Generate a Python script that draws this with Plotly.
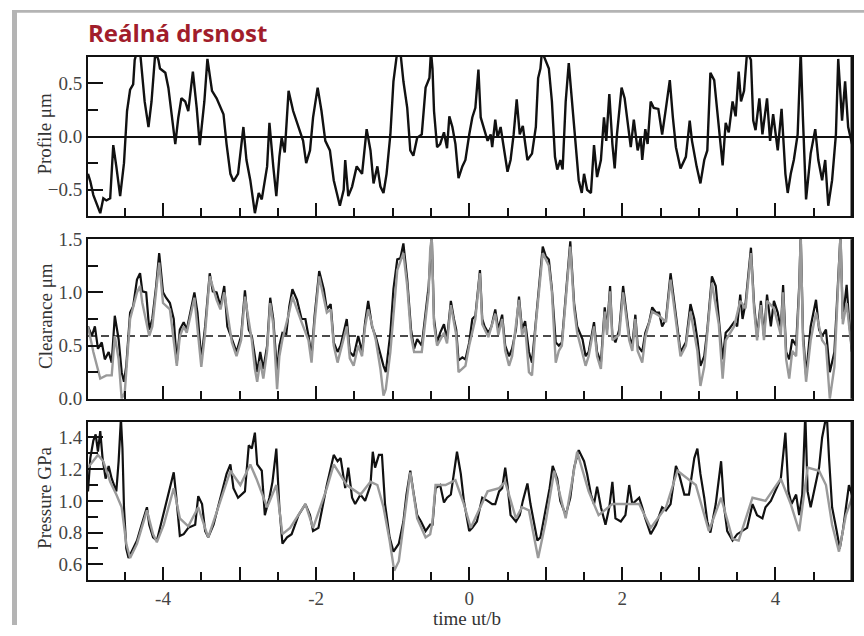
import plotly.graph_objects as go

# ---------------- data ----------------
profile = [
    (-4.98, -0.35), (-4.95, -0.42), (-4.91, -0.55), (-4.87, -0.62), (-4.82, -0.72),
    (-4.78, -0.58), (-4.74, -0.60), (-4.69, -0.58), (-4.65, -0.08), (-4.61, -0.28),
    (-4.56, -0.56), (-4.51, -0.25), (-4.47, 0.24), (-4.43, 0.44), (-4.39, 0.49),
    (-4.37, 0.72), (-4.34, 0.80), (-4.30, 0.80), (-4.28, 0.64), (-4.24, 0.33),
    (-4.19, 0.09), (-4.15, 0.33), (-4.10, 0.80), (-4.06, 0.72), (-4.04, 0.64),
    (-3.97, 0.60), (-3.93, 0.46), (-3.89, 0.21), (-3.84, -0.07), (-3.80, 0.18),
    (-3.76, 0.36), (-3.71, 0.33), (-3.67, 0.24), (-3.61, 0.61), (-3.56, 0.27),
    (-3.52, -0.08), (-3.46, 0.33), (-3.42, 0.73), (-3.36, 0.43), (-3.30, 0.36),
    (-3.25, 0.27), (-3.21, 0.21), (-3.17, -0.07), (-3.12, -0.35), (-3.08, -0.42),
    (-3.02, -0.35), (-2.95, 0.09), (-2.91, -0.22), (-2.86, -0.41), (-2.82, -0.65),
    (-2.80, -0.72), (-2.75, -0.53), (-2.71, -0.59), (-2.64, -0.28), (-2.61, 0.13),
    (-2.56, -0.28), (-2.52, -0.56), (-2.48, -0.19), (-2.45, -0.01), (-2.41, -0.15),
    (-2.36, 0.43), (-2.30, 0.24), (-2.23, 0.09), (-2.17, -0.04), (-2.13, -0.25),
    (-2.08, -0.13), (-2.04, 0.18), (-1.98, 0.46), (-1.93, 0.24), (-1.88, -0.04),
    (-1.82, -0.13), (-1.77, -0.41), (-1.73, -0.53), (-1.69, -0.65), (-1.64, -0.50),
    (-1.62, -0.22), (-1.58, -0.56), (-1.53, -0.47), (-1.47, -0.28), (-1.40, -0.35),
    (-1.34, 0.07), (-1.29, -0.13), (-1.25, -0.44), (-1.20, -0.28), (-1.16, -0.47),
    (-1.12, -0.53), (-1.08, -0.35), (-1.03, 0.02), (-0.99, 0.52), (-0.94, 0.80),
    (-0.90, 0.80), (-0.86, 0.52), (-0.81, 0.27), (-0.77, -0.13), (-0.73, -0.18),
    (-0.68, -0.01), (-0.62, 0.02), (-0.57, 0.46), (-0.52, 0.55), (-0.50, 0.80),
    (-0.48, 0.64), (-0.46, 0.24), (-0.42, -0.10), (-0.38, -0.07), (-0.33, 0.04),
    (-0.29, -0.11), (-0.26, 0.19), (-0.22, 0.09), (-0.18, -0.07), (-0.14, -0.39),
    (-0.09, -0.28), (-0.05, -0.22), (0.00, 0.02), (0.04, 0.18), (0.08, 0.27),
    (0.12, 0.63), (0.15, 0.18), (0.19, 0.09), (0.24, -0.04), (0.28, 0.02),
    (0.30, -0.10), (0.34, 0.16), (0.37, -0.01), (0.41, 0.09), (0.45, -0.10),
    (0.50, -0.33), (0.54, -0.22), (0.58, 0.02), (0.62, 0.35), (0.66, 0.02),
    (0.70, 0.10), (0.76, -0.22), (0.82, -0.16), (0.87, 0.09), (0.90, 0.55),
    (0.93, 0.64), (0.95, 0.80), (1.00, 0.72), (1.04, 0.64), (1.08, 0.33),
    (1.12, -0.19), (1.15, -0.31), (1.19, -0.22), (1.22, -0.31), (1.26, 0.33),
    (1.30, 0.69), (1.34, 0.33), (1.38, -0.04), (1.43, -0.41), (1.47, -0.53),
    (1.50, -0.35), (1.54, -0.50), (1.59, -0.53), (1.63, -0.08), (1.67, -0.38),
    (1.72, -0.22), (1.76, 0.18), (1.79, -0.04), (1.83, 0.40), (1.87, -0.07),
    (1.90, -0.30), (1.93, 0.02), (1.99, 0.46), (2.03, 0.36), (2.07, 0.15),
    (2.11, -0.10), (2.15, 0.16), (2.20, -0.13), (2.24, -0.01), (2.26, -0.22),
    (2.30, 0.07), (2.33, -0.07), (2.37, 0.33), (2.41, 0.27), (2.47, 0.26),
    (2.52, 0.02), (2.57, 0.27), (2.62, 0.53), (2.66, 0.18), (2.70, -0.10),
    (2.76, -0.30), (2.83, -0.19), (2.88, 0.15), (2.91, -0.04), (2.97, -0.28),
    (3.02, -0.44), (3.07, -0.22), (3.11, -0.13), (3.15, 0.60), (3.20, 0.53),
    (3.24, 0.24), (3.27, 0.02), (3.31, -0.27), (3.35, 0.13), (3.39, 0.04),
    (3.44, 0.33), (3.48, 0.19), (3.52, 0.61), (3.55, 0.33), (3.59, 0.43),
    (3.63, 0.80), (3.68, 0.72), (3.71, 0.15), (3.74, 0.06), (3.79, 0.36),
    (3.83, 0.02), (3.89, 0.36), (3.93, -0.04), (3.97, 0.21), (4.03, -0.13),
    (4.08, 0.26), (4.13, -0.35), (4.16, -0.53), (4.20, -0.35), (4.24, -0.22),
    (4.29, 0.02), (4.33, 0.80), (4.36, 0.15), (4.40, -0.59), (4.46, -0.16),
    (4.52, 0.07), (4.56, -0.22), (4.61, -0.41), (4.65, -0.22), (4.69, -0.65),
    (4.74, -0.41), (4.79, 0.02), (4.82, 0.73), (4.87, 0.15), (4.91, 0.52),
    (4.95, 0.09), (5.00, -0.07),
]

clearance_black = [
    (-4.98, 0.68), (-4.93, 0.59), (-4.89, 0.68), (-4.85, 0.47), (-4.80, 0.53),
    (-4.76, 0.37), (-4.71, 0.44), (-4.67, 0.34), (-4.63, 0.78), (-4.58, 0.56),
    (-4.54, 0.25), (-4.51, 0.16), (-4.48, 0.31), (-4.43, 0.81), (-4.39, 0.87),
    (-4.34, 1.12), (-4.30, 1.18), (-4.27, 1.01), (-4.22, 1.00), (-4.18, 0.65),
    (-4.14, 0.75), (-4.09, 1.06), (-4.05, 1.37), (-4.00, 1.00), (-3.96, 0.95),
    (-3.91, 0.90), (-3.86, 0.75), (-3.82, 0.34), (-3.78, 0.65), (-3.73, 0.72),
    (-3.69, 0.65), (-3.65, 0.78), (-3.59, 1.00), (-3.55, 0.81), (-3.50, 0.37),
    (-3.45, 0.68), (-3.39, 1.18), (-3.35, 1.01), (-3.30, 1.00), (-3.25, 0.87),
    (-3.20, 1.06), (-3.16, 0.68), (-3.10, 0.56), (-3.04, 0.44), (-2.98, 0.59),
    (-2.93, 1.02), (-2.88, 0.65), (-2.84, 0.59), (-2.80, 0.40), (-2.77, 0.25),
    (-2.73, 0.44), (-2.69, 0.28), (-2.64, 0.50), (-2.60, 0.95), (-2.56, 0.75),
    (-2.51, 0.25), (-2.48, 0.50), (-2.44, 0.62), (-2.39, 0.61), (-2.35, 0.87),
    (-2.31, 1.03), (-2.25, 0.93), (-2.19, 0.75), (-2.14, 0.75), (-2.10, 0.59),
    (-2.06, 0.40), (-2.02, 0.78), (-1.96, 1.20), (-1.90, 1.03), (-1.86, 0.84),
    (-1.81, 0.89), (-1.77, 0.53), (-1.72, 0.44), (-1.68, 0.50), (-1.60, 0.75),
    (-1.56, 0.44), (-1.51, 0.40), (-1.45, 0.59), (-1.40, 0.44), (-1.36, 0.72),
    (-1.32, 0.92), (-1.27, 0.68), (-1.22, 0.58), (-1.16, 0.40), (-1.12, 0.31),
    (-1.09, 0.25), (-1.03, 0.62), (-0.99, 1.03), (-0.94, 1.31), (-0.90, 1.32),
    (-0.86, 1.46), (-0.81, 1.12), (-0.76, 0.65), (-0.72, 0.47), (-0.68, 0.56),
    (-0.62, 0.50), (-0.57, 0.81), (-0.53, 1.06), (-0.51, 1.31), (-0.49, 1.55),
    (-0.46, 0.75), (-0.42, 0.53), (-0.38, 0.62), (-0.33, 0.70), (-0.29, 0.56),
    (-0.24, 0.92), (-0.20, 0.75), (-0.17, 0.65), (-0.14, 0.36), (-0.09, 0.39),
    (-0.05, 0.37), (0.00, 0.53), (0.04, 0.75), (0.08, 0.78), (0.14, 1.21),
    (0.17, 0.75), (0.20, 0.68), (0.25, 0.62), (0.29, 0.68), (0.34, 0.84),
    (0.38, 0.65), (0.43, 0.79), (0.47, 0.50), (0.52, 0.40), (0.56, 0.47),
    (0.61, 0.65), (0.65, 0.96), (0.69, 0.65), (0.73, 0.73), (0.78, 0.44),
    (0.82, 0.34), (0.87, 0.75), (0.91, 1.09), (0.96, 1.43), (1.00, 1.34),
    (1.04, 1.31), (1.08, 1.03), (1.13, 0.53), (1.17, 0.50), (1.21, 0.53),
    (1.26, 0.96), (1.32, 1.48), (1.37, 0.90), (1.41, 0.68), (1.48, 0.56),
    (1.52, 0.40), (1.56, 0.44), (1.63, 0.72), (1.67, 0.44), (1.72, 0.34),
    (1.77, 0.86), (1.80, 0.65), (1.84, 1.06), (1.87, 0.59), (1.91, 0.53),
    (1.96, 0.65), (2.01, 1.06), (2.04, 0.90), (2.09, 0.59), (2.13, 0.50),
    (2.17, 0.79), (2.20, 0.50), (2.26, 0.44), (2.30, 0.62), (2.35, 0.72),
    (2.39, 0.86), (2.44, 0.81), (2.48, 0.81), (2.52, 0.68), (2.57, 0.75),
    (2.63, 1.18), (2.68, 0.90), (2.72, 0.65), (2.76, 0.44), (2.83, 0.53),
    (2.89, 0.89), (2.94, 0.75), (2.98, 0.56), (3.02, 0.31), (3.07, 0.40),
    (3.11, 0.65), (3.17, 1.15), (3.22, 1.06), (3.26, 0.75), (3.31, 0.37),
    (3.35, 0.62), (3.39, 0.65), (3.46, 0.72), (3.50, 0.68), (3.54, 0.98),
    (3.57, 0.75), (3.61, 0.90), (3.68, 1.42), (3.72, 0.90), (3.76, 0.59),
    (3.81, 0.92), (3.85, 0.59), (3.89, 0.98), (3.94, 0.68), (3.98, 0.92),
    (4.03, 0.81), (4.07, 0.65), (4.10, 1.07), (4.14, 0.44), (4.18, 0.37),
    (4.22, 0.56), (4.27, 0.50), (4.31, 1.06), (4.33, 1.55), (4.36, 0.62),
    (4.40, 0.22), (4.46, 0.68), (4.53, 0.93), (4.57, 0.65), (4.61, 0.59),
    (4.66, 0.65), (4.71, 0.25), (4.77, 0.44), (4.81, 1.06), (4.85, 1.55),
    (4.88, 0.75), (4.93, 1.07), (4.96, 0.75), (5.00, 0.44),
]

clearance_gray = [
    (-4.98, 0.68), (-4.91, 0.44), (-4.82, 0.19), (-4.74, 0.22), (-4.67, 0.22),
    (-4.63, 0.59), (-4.58, 0.37), (-4.54, 0.00), (-4.50, 0.06), (-4.43, 0.75),
    (-4.34, 1.00), (-4.30, 1.06), (-4.27, 0.90), (-4.18, 0.59), (-4.14, 0.68),
    (-4.05, 1.28), (-4.00, 0.90), (-3.91, 0.84), (-3.82, 0.31), (-3.78, 0.59),
    (-3.73, 0.68), (-3.69, 0.62), (-3.59, 0.95), (-3.50, 0.30), (-3.45, 0.62),
    (-3.39, 1.15), (-3.30, 0.93), (-3.25, 0.84), (-3.20, 1.00), (-3.10, 0.53),
    (-3.04, 0.40), (-2.98, 0.55), (-2.93, 0.96), (-2.84, 0.55), (-2.80, 0.28),
    (-2.77, 0.16), (-2.73, 0.35), (-2.69, 0.19), (-2.64, 0.45), (-2.60, 0.90),
    (-2.56, 0.70), (-2.51, 0.09), (-2.48, 0.40), (-2.44, 0.56), (-2.35, 0.82),
    (-2.31, 0.96), (-2.19, 0.72), (-2.10, 0.55), (-2.06, 0.34), (-2.02, 0.72),
    (-1.96, 1.15), (-1.86, 0.81), (-1.81, 0.84), (-1.77, 0.50), (-1.72, 0.34),
    (-1.68, 0.45), (-1.60, 0.68), (-1.56, 0.38), (-1.51, 0.31), (-1.45, 0.50),
    (-1.40, 0.40), (-1.36, 0.68), (-1.32, 0.84), (-1.22, 0.55), (-1.16, 0.28),
    (-1.12, 0.03), (-1.09, 0.09), (-1.03, 0.44), (-0.94, 1.21), (-0.86, 1.37),
    (-0.81, 1.06), (-0.76, 0.59), (-0.72, 0.44), (-0.62, 0.44), (-0.57, 0.75),
    (-0.53, 1.00), (-0.51, 1.40), (-0.49, 1.52), (-0.46, 0.70), (-0.42, 0.50),
    (-0.33, 0.62), (-0.29, 0.52), (-0.24, 0.88), (-0.17, 0.60), (-0.14, 0.25),
    (-0.05, 0.31), (0.00, 0.50), (0.08, 0.75), (0.14, 1.18), (0.17, 0.70),
    (0.25, 0.58), (0.34, 0.80), (0.38, 0.60), (0.43, 0.75), (0.47, 0.45),
    (0.52, 0.31), (0.56, 0.40), (0.65, 0.93), (0.69, 0.60), (0.73, 0.68),
    (0.78, 0.25), (0.82, 0.22), (0.87, 0.70), (0.96, 1.37), (1.04, 1.25),
    (1.08, 1.00), (1.13, 0.34), (1.17, 0.45), (1.21, 0.50), (1.32, 1.43),
    (1.37, 0.85), (1.41, 0.62), (1.52, 0.31), (1.56, 0.40), (1.63, 0.68),
    (1.67, 0.40), (1.72, 0.28), (1.77, 0.82), (1.80, 0.60), (1.84, 1.01),
    (1.87, 0.55), (1.96, 0.60), (2.01, 1.00), (2.09, 0.55), (2.13, 0.45),
    (2.17, 0.75), (2.20, 0.45), (2.26, 0.34), (2.30, 0.58), (2.39, 0.82),
    (2.48, 0.78), (2.57, 0.72), (2.63, 1.12), (2.72, 0.60), (2.76, 0.40),
    (2.83, 0.50), (2.89, 0.82), (2.98, 0.45), (3.02, 0.12), (3.07, 0.30),
    (3.11, 0.60), (3.17, 1.09), (3.26, 0.70), (3.31, 0.19), (3.35, 0.55),
    (3.46, 0.68), (3.54, 0.92), (3.61, 0.85), (3.68, 1.37), (3.72, 0.85),
    (3.76, 0.55), (3.81, 0.88), (3.85, 0.55), (3.89, 0.92), (3.98, 0.85),
    (4.07, 0.60), (4.10, 1.00), (4.14, 0.37), (4.18, 0.19), (4.22, 0.45),
    (4.27, 0.40), (4.31, 1.00), (4.33, 1.55), (4.36, 0.55), (4.40, 0.16),
    (4.46, 0.55), (4.53, 0.81), (4.61, 0.55), (4.66, 0.50), (4.71, 0.00),
    (4.77, 0.30), (4.81, 1.00), (4.85, 1.55), (4.88, 0.70), (4.93, 0.90),
    (4.96, 0.70), (5.00, 0.44),
]

pressure_black = [
    (-4.98, 1.06), (-4.95, 1.27), (-4.91, 1.38), (-4.88, 1.42), (-4.85, 1.31),
    (-4.82, 1.44), (-4.79, 1.27), (-4.75, 1.14), (-4.71, 1.22), (-4.67, 1.14),
    (-4.61, 1.06), (-4.58, 1.25), (-4.55, 1.52), (-4.53, 1.33), (-4.51, 0.96),
    (-4.48, 0.70), (-4.45, 0.64), (-4.41, 0.68), (-4.34, 0.75), (-4.28, 0.85),
    (-4.21, 0.96), (-4.18, 0.85), (-4.13, 0.77), (-4.08, 0.75), (-4.02, 0.87),
    (-3.93, 1.06), (-3.86, 1.18), (-3.83, 1.04), (-3.78, 0.78), (-3.73, 0.79),
    (-3.67, 0.83), (-3.58, 0.85), (-3.54, 1.03), (-3.49, 0.98), (-3.45, 0.81),
    (-3.41, 0.77), (-3.34, 0.85), (-3.25, 1.02), (-3.17, 1.17), (-3.12, 1.23),
    (-3.08, 1.08), (-3.02, 1.02), (-2.97, 1.04), (-2.93, 1.06), (-2.88, 1.35),
    (-2.84, 1.33), (-2.80, 1.43), (-2.77, 1.23), (-2.71, 1.19), (-2.67, 0.91),
    (-2.61, 1.02), (-2.57, 1.12), (-2.52, 1.33), (-2.48, 0.96), (-2.44, 0.73),
    (-2.38, 0.77), (-2.32, 0.79), (-2.23, 0.91), (-2.14, 0.98), (-2.08, 0.91),
    (-2.04, 0.81), (-1.97, 0.83), (-1.86, 1.10), (-1.77, 1.29), (-1.72, 1.25),
    (-1.68, 1.27), (-1.62, 1.08), (-1.58, 1.21), (-1.53, 1.02), (-1.49, 0.98),
    (-1.42, 1.04), (-1.36, 1.00), (-1.29, 1.10), (-1.26, 1.31), (-1.23, 1.21),
    (-1.18, 1.29), (-1.14, 1.29), (-1.10, 0.98), (-1.04, 0.77), (-0.99, 0.68),
    (-0.92, 0.73), (-0.86, 0.87), (-0.82, 1.04), (-0.77, 1.19), (-0.73, 1.06),
    (-0.68, 0.91), (-0.63, 0.87), (-0.57, 0.81), (-0.51, 0.85), (-0.48, 0.85),
    (-0.44, 1.08), (-0.38, 1.10), (-0.33, 0.99), (-0.29, 1.02), (-0.24, 1.04),
    (-0.20, 1.17), (-0.16, 1.31), (-0.11, 1.17), (-0.07, 1.00), (0.00, 0.81),
    (0.04, 0.83), (0.10, 0.87), (0.17, 1.02), (0.24, 1.00), (0.30, 0.98),
    (0.34, 0.98), (0.39, 1.06), (0.43, 1.08), (0.47, 1.21), (0.50, 1.10),
    (0.54, 0.91), (0.61, 0.87), (0.66, 0.91), (0.70, 1.00), (0.76, 1.11),
    (0.80, 0.98), (0.85, 0.85), (0.89, 0.75), (0.93, 0.77), (1.00, 0.96),
    (1.05, 1.08), (1.09, 1.22), (1.15, 1.14), (1.19, 1.00), (1.26, 0.91),
    (1.32, 1.02), (1.37, 1.21), (1.43, 1.32), (1.50, 1.25), (1.54, 1.17),
    (1.59, 1.04), (1.63, 0.98), (1.67, 1.09), (1.72, 0.96), (1.78, 0.85),
    (1.83, 0.96), (1.87, 1.12), (1.91, 0.89), (1.98, 0.87), (2.04, 0.91),
    (2.09, 1.10), (2.13, 0.98), (2.22, 1.02), (2.26, 0.96), (2.30, 0.89),
    (2.37, 0.79), (2.44, 0.85), (2.52, 0.96), (2.57, 0.94), (2.63, 0.98),
    (2.70, 1.22), (2.74, 1.17), (2.81, 1.04), (2.87, 1.04), (2.94, 1.27),
    (2.98, 1.33), (3.02, 1.17), (3.07, 1.02), (3.11, 0.87), (3.15, 0.80),
    (3.22, 0.98), (3.29, 1.25), (3.33, 0.96), (3.37, 0.81), (3.44, 0.75),
    (3.50, 0.79), (3.57, 0.81), (3.63, 0.83), (3.70, 0.98), (3.76, 0.91),
    (3.83, 0.89), (3.87, 0.96), (3.94, 1.00), (4.00, 1.06), (4.07, 1.14),
    (4.13, 1.43), (4.17, 1.06), (4.21, 0.98), (4.27, 1.04), (4.31, 0.91),
    (4.35, 1.04), (4.39, 1.55), (4.42, 1.06), (4.46, 0.96), (4.51, 1.08),
    (4.57, 1.21), (4.61, 1.40), (4.67, 1.55), (4.70, 1.27), (4.74, 0.96),
    (4.80, 0.81), (4.84, 0.70), (4.88, 0.81), (4.92, 0.96), (4.96, 1.10),
    (5.00, 1.04),
]

pressure_gray = [
    (-4.98, 1.21), (-4.91, 1.25), (-4.85, 1.29), (-4.78, 1.25), (-4.69, 1.12),
    (-4.61, 1.04), (-4.54, 0.96), (-4.48, 0.73), (-4.43, 0.64), (-4.34, 0.73),
    (-4.21, 0.94), (-4.13, 0.79), (-4.08, 0.74), (-3.99, 0.85), (-3.86, 1.08),
    (-3.78, 0.89), (-3.67, 0.84), (-3.54, 0.96), (-3.41, 0.77), (-3.25, 1.00),
    (-3.12, 1.19), (-2.99, 1.10), (-2.86, 1.23), (-2.78, 1.14), (-2.64, 0.96),
    (-2.52, 1.10), (-2.44, 0.79), (-2.34, 0.83), (-2.14, 0.98), (-2.04, 0.83),
    (-1.86, 1.08), (-1.77, 1.23), (-1.60, 1.10), (-1.42, 1.04), (-1.29, 1.12),
    (-1.20, 1.10), (-1.12, 0.96), (-1.04, 0.75), (-0.98, 0.56), (-0.92, 0.62),
    (-0.84, 0.91), (-0.77, 1.18), (-0.68, 0.89), (-0.57, 0.77), (-0.51, 0.79),
    (-0.48, 0.87), (-0.44, 1.10), (-0.31, 1.10), (-0.18, 1.13), (-0.07, 0.98),
    (0.02, 0.83), (0.13, 0.94), (0.24, 1.06), (0.39, 1.08), (0.47, 1.12),
    (0.61, 0.89), (0.69, 0.96), (0.78, 0.94), (0.90, 0.64), (1.00, 0.87),
    (1.11, 1.19), (1.26, 0.89), (1.41, 1.31), (1.56, 1.06), (1.69, 0.91),
    (1.87, 0.98), (2.04, 0.98), (2.22, 0.98), (2.37, 0.83), (2.57, 0.96),
    (2.72, 1.19), (2.96, 1.10), (3.13, 0.81), (3.29, 1.02), (3.44, 0.76),
    (3.52, 0.75), (3.70, 1.02), (3.87, 1.00), (4.07, 1.14), (4.20, 0.98),
    (4.31, 0.81), (4.42, 1.21), (4.57, 1.19), (4.66, 1.10), (4.74, 0.85),
    (4.83, 0.68), (4.92, 0.91), (5.00, 1.02),
]

clearance_reference = 0.59
x_major_ticks = [-4, -3, -2, -1, 0, 1, 2, 3, 4]
x_tick_labels = ["-4", "", "-2", "", "0", "", "2", "", "4"]

# ---------------- layout helpers ----------------
# The photographed page is squeezed slightly in height, so target screen
# rows are mapped back to figure rows before becoming paper fractions.
W, H = 864, 636
SY = 652 / 636
def fx(t): return t / W
def fy(t): return 1 - (t * SY - 8) / H

BLACK = "#111111"
GRAY = "#9a9a9a"
SERIF = "Liberation Serif, Times New Roman, serif"
LABEL_COLOR = "#444444"

def unzip(pairs):
    return [p[0] for p in pairs], [p[1] for p in pairs]

fig = go.Figure()

t, v = unzip(profile)
fig.add_trace(go.Scatter(x=t, y=v, mode="lines", line=dict(color=BLACK, width=2.4),
                         xaxis="x", yaxis="y", showlegend=False))
t, v = unzip(clearance_black)
fig.add_trace(go.Scatter(x=t, y=v, mode="lines", line=dict(color=BLACK, width=2.2),
                         xaxis="x2", yaxis="y2", showlegend=False))
t, v = unzip(clearance_gray)
fig.add_trace(go.Scatter(x=t, y=v, mode="lines", line=dict(color=GRAY, width=2.4),
                         xaxis="x2", yaxis="y2", showlegend=False))
t, v = unzip(pressure_black)
fig.add_trace(go.Scatter(x=t, y=v, mode="lines", line=dict(color=BLACK, width=2.2),
                         xaxis="x3", yaxis="y3", showlegend=False))
t, v = unzip(pressure_gray)
fig.add_trace(go.Scatter(x=t, y=v, mode="lines", line=dict(color=GRAY, width=2.4),
                         xaxis="x3", yaxis="y3", showlegend=False))

panels = [
    dict(top=55, bottom=216, rng=[-0.75, 0.75], dtick=0.5, tick0=0, minor=0.25),
    dict(top=239, bottom=400, rng=[0.0, 1.5], dtick=0.5, tick0=0, minor=0.25),
    dict(top=423, bottom=583, rng=[0.5, 1.5], dtick=0.2, tick0=0.6, minor=0.1),
]

layout = dict(
    width=W, height=H,
    margin=dict(l=0, r=0, t=0, b=0),
    paper_bgcolor="white", plot_bgcolor="white",
    showlegend=False,
    font=dict(family=SERIF, size=19, color=LABEL_COLOR),
)

for i, p in enumerate(panels):
    sfx = "" if i == 0 else str(i + 1)
    ydom = [fy(p["bottom"]), fy(p["top"])]
    layout["xaxis" + sfx] = dict(
        domain=[fx(88), fx(852)], range=[-4.98, 5.0], anchor="y" + sfx,
        showline=True, mirror=True, linecolor=BLACK, linewidth=2,
        ticks="inside", tickmode="array", tickvals=x_major_ticks, ticktext=x_tick_labels,
        ticklen=13, tickwidth=2, tickcolor=BLACK,
        minor=dict(dtick=0.5, tick0=0, ticks="inside", ticklen=8, tickwidth=2, tickcolor=BLACK),
        showgrid=False, zeroline=False,
        showticklabels=(i == 2),
        tickfont=dict(family=SERIF, size=19, color=LABEL_COLOR),
        ticklabelstandoff=0,
    )
    layout["yaxis" + sfx] = dict(
        domain=ydom, range=p["rng"], anchor="x" + sfx,
        showline=True, mirror=True, linecolor=BLACK, linewidth=2,
        ticks="inside", dtick=p["dtick"], tick0=p["tick0"], tickformat=".1f",
        ticklen=15, tickwidth=2, tickcolor=BLACK,
        minor=dict(dtick=p["minor"], tick0=p["tick0"], ticks="inside", ticklen=10,
                   tickwidth=2, tickcolor=BLACK),
        showgrid=False,
        zeroline=(i == 0), zerolinecolor=BLACK, zerolinewidth=2,
        tickfont=dict(family=SERIF, size=19, color=LABEL_COLOR),
    )

fig.update_layout(**layout)

# dashed reference line in clearance panel
fig.add_shape(type="line", xref="x2 domain", yref="y2", x0=0, x1=1,
              y0=clearance_reference, y1=clearance_reference,
              line=dict(color=BLACK, width=1.6, dash="8px,5px"), layer="below")

# heavier right frame edge
for p in panels:
    fig.add_shape(type="line", xref="paper", yref="paper", x0=fx(852), x1=fx(852),
                  y0=fy(p["bottom"]), y1=fy(p["top"]), line=dict(color=BLACK, width=3))

# gray page frame (top and left)
fig.add_shape(type="rect", xref="paper", yref="paper", x0=fx(12), x1=1.0,
              y0=fy(10.5), y1=1.0, fillcolor="#b4b4b4", line=dict(width=0))
fig.add_shape(type="rect", xref="paper", yref="paper", x0=fx(12), x1=fx(17),
              y0=0.0, y1=1.0, fillcolor="#b4b4b4", line=dict(width=0))

# title
fig.add_annotation(text="<b>Reálná drsnost</b>", xref="paper", yref="paper",
                   x=fx(86), y=fy(31), xanchor="left", yanchor="middle", showarrow=False,
                   font=dict(family="Open Sans", size=24, color="#a11d2b"))

# axis titles
ytitles = ["Profile μm", "Clearance μm", "Pressure GPa"]
for p, txt in zip(panels, ytitles):
    fig.add_annotation(text=txt, xref="paper", yref="paper", x=fx(45),
                       y=fy((p["top"] + p["bottom"]) / 2 - 3), xanchor="center", yanchor="middle",
                       textangle=-90, showarrow=False,
                       font=dict(family=SERIF, size=19, color="#333333"))

fig.add_annotation(text="time ut/b", xref="paper", yref="paper", x=fx(467), y=0.0,
                   xanchor="center", yanchor="bottom", yshift=-6, showarrow=False,
                   font=dict(family=SERIF, size=19, color="#333333"))

fig.write_html("out.html")
